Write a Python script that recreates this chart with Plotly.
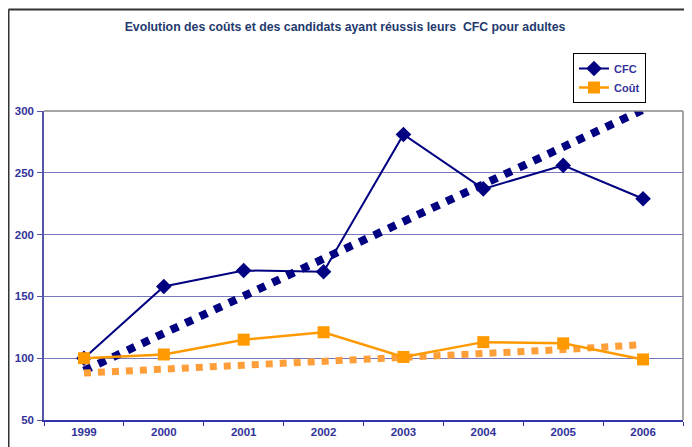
import plotly.graph_objects as go

years = ["1999", "2000", "2001", "2002", "2003", "2004", "2005", "2006"]
cfc = [100, 158, 171, 170, 281, 237, 256, 229]
cout = [100, 103, 115, 121, 101, 113, 112, 99]
cfc_trend = [90, 120, 150, 180, 210, 240, 270, 301]
cout_trend = [88, 91, 94, 97, 100, 104, 107, 111]
y_ticks = [50, 100, 150, 200, 250, 300]

NAVY = "#000080"
ORANGE = "#FF9900"
ORANGE_T = "#FF9F3A"
LABEL = "#333399"
FONT = "Liberation Sans, Arial, sans-serif"

fig = go.Figure()
fig.add_trace(go.Scatter(x=years, y=cfc_trend, mode="lines", showlegend=False,
                         line=dict(color=NAVY, width=8, dash="dot"), hoverinfo="skip"))
fig.add_trace(go.Scatter(x=years, y=cout_trend, mode="lines", showlegend=False,
                         line=dict(color=ORANGE_T, width=7, dash="dot"), hoverinfo="skip"))
fig.add_trace(go.Scatter(x=years, y=cfc, mode="lines+markers", name="CFC",
                         line=dict(color=NAVY, width=2),
                         marker=dict(symbol="diamond", size=12, color=NAVY)))
fig.add_trace(go.Scatter(x=years, y=cout, mode="lines+markers", name="Coût",
                         line=dict(color=ORANGE, width=2.5),
                         marker=dict(symbol="square", size=12, color=ORANGE)))

# page has an 8px body margin: work in page pixels, then offset
OFF = 8
W, H = 692 - OFF, 447 - OFF
L, R, T, B = 44 - OFF, 9, 111 - OFF, 27
pw, ph = W - L - R, H - T - B

def px(x):
    return (x - OFF - L) / pw

def py(y):
    return (H - B - (y - OFF)) / ph

fig.update_layout(
    width=W, height=H,
    margin=dict(l=L, r=R, t=T, b=B, autoexpand=False),
    paper_bgcolor="white", plot_bgcolor="white",
    font=dict(family=FONT, color=LABEL, size=11),
    title=dict(text="Evolution des coûts et des candidats ayant réussis leurs  CFC pour adultes",
               x=(345 - OFF) / W, xref="container", xanchor="center",
               y=1 - (27 - OFF) / H, yref="container", yanchor="middle",
               font=dict(family=FONT, size=12.3, color="#1F3A6E", weight="bold")),
    xaxis=dict(type="category", range=[-0.5, 7.5], showgrid=False,
               showline=True, linecolor="#3333AA", linewidth=1.5,
               ticks="outside", tickson="boundaries", ticklen=4, tickcolor="#3333AA",
               tickfont=dict(family=FONT, size=11.5, color=LABEL, weight="bold"), zeroline=False),
    yaxis=dict(range=[50, 300], tickvals=y_ticks, showgrid=True, gridcolor="#7777BB", gridwidth=1,
               showline=True, linecolor="#5555AA", linewidth=1.5,
               ticks="outside", ticklen=5, tickcolor="#5555AA", ticklabelstandoff=1,
               tickfont=dict(family=FONT, size=11.5, color=LABEL, weight="bold"), zeroline=False),
    legend=dict(x=px(573), y=py(53), xanchor="left", yanchor="top",
                bordercolor="black", borderwidth=1, bgcolor="white",
                font=dict(family=FONT, size=11, color=LABEL, weight="bold"),
                itemwidth=30, tracegroupgap=0),
    shapes=[
        dict(type="line", xref="paper", yref="paper", x0=1, x1=1, y0=0, y1=1,
             line=dict(color="#888888", width=1.5)),
        dict(type="line", xref="paper", yref="paper", x0=0, x1=1, y0=1, y1=1,
             line=dict(color="#888888", width=1.5)),
        dict(type="line", xref="paper", yref="paper", x0=px(8.5), x1=px(8.5), y0=py(9.5), y1=py(470),
             line=dict(color="#333333", width=2)),
        dict(type="line", xref="paper", yref="paper", x0=px(8.5), x1=px(720), y0=py(9.5), y1=py(9.5),
             line=dict(color="#333333", width=2)),
    ],
)
fig.update_traces(cliponaxis=False, selector=dict(mode="lines"))

fig.write_html("out.html")
